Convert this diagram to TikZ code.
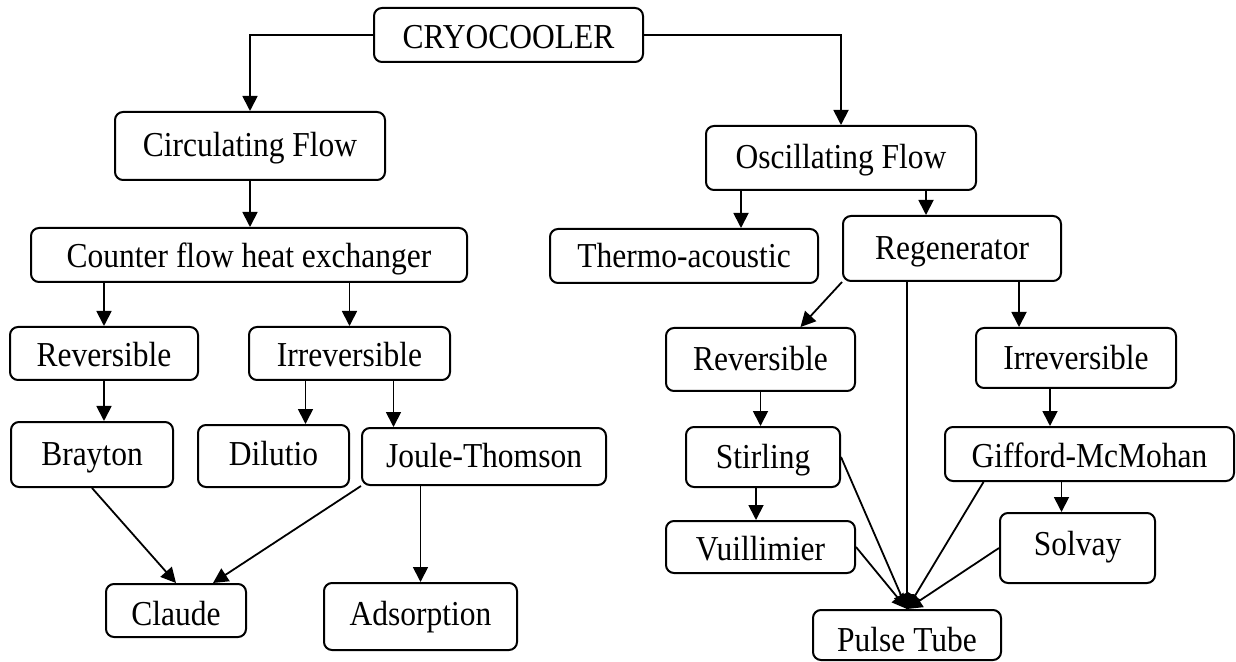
\documentclass[tikz,border=0pt]{standalone}
\usepackage{fontspec}
\setmainfont{Liberation Serif}[FakeStretch=0.9]
\usetikzlibrary{arrows.meta}

\begin{document}
\begin{tikzpicture}[
  x=0.5pt,y=-0.5pt,
  stage/.style={draw,rounded corners=4pt,line width=1pt,align=center,inner sep=2pt,text height=11pt,text depth=0pt,font=\fontsize{17.5}{21}\selectfont},
  flow/.style={-{Triangle[length=7.5pt,width=7.5pt]},line width=0.9pt}
]
\useasboundingbox (0,0) rectangle (1236,662);
% top and the two flow families
\node[stage,minimum width=134.5pt,minimum height=27pt,text height=14pt] (n0) at (508.5,35) {CRYOCOOLER};
\node[stage,minimum width=135pt,minimum height=34pt] (n1) at (250,146) {Circulating Flow};
\node[stage,minimum width=135pt,minimum height=32pt] (n2) at (841,158) {Oscillating Flow};
\draw[flow] (n0.west) -| (n1.north);
\draw[flow] (n0.east) -| (n2.north);
% circulating side
\node[stage,minimum width=218pt,minimum height=27pt,text height=13pt] (n3) at (249,255) {Counter flow heat exchanger};
\draw[flow] (n1.south) -- (n1.south |- n3.north);
\node[stage,minimum width=94pt,minimum height=26.5pt,text height=13.5pt] (n6) at (104,353.5) {Reversible};
\node[stage,minimum width=100.5pt,minimum height=26.5pt,text height=13.5pt] (n7) at (349.5,353.5) {Irreversible};
\draw[flow] (n3.south -| n6.north) -- (n6.north);
\draw[flow] (n3.south -| n7.north) -- (n7.north);
\node[stage,minimum width=81pt,minimum height=32.5pt] (n10) at (92,454.5) {Brayton};
\node[stage,minimum width=75.5pt,minimum height=31pt,text height=9pt] (n11) at (273.5,456) {Dilutio};
\node[stage,minimum width=122pt,minimum height=28.5pt] (n12) at (484,456.5) {Joule-Thomson};
\draw[flow] (n6.south) -- (n6.south |- n10.north);
\draw[flow] ([xshift=-22pt]n7.south) -- ([xshift=-22pt]n7.south |- n11.north);
\draw[flow] ([xshift=22pt]n7.south) -- ([xshift=22pt]n7.south |- n12.north);
\node[stage,minimum width=70pt,minimum height=26.5pt,text height=14.5pt] (n17) at (176,610.5) {Claude};
\node[stage,minimum width=96.5pt,minimum height=33.5pt,text height=8.5pt] (n18) at (420.5,616.5) {Adsorption};
\draw[flow] (n10.south) -- (n17.north);
\draw[flow] (n12.south west) -- ([xshift=18.5pt]n17.north);
\draw[flow] (n12.south -| n18.north) -- (n18.north);
% oscillating side
\node[stage,minimum width=134pt,minimum height=27pt,text height=12pt] (n4) at (684,256) {Thermo-acoustic};
\node[stage,minimum width=109pt,minimum height=32.5pt] (n5) at (952,248.5) {Regenerator};
\draw[flow] ([xshift=-50pt]n2.south) -- ([xshift=-50pt]n2.south |- n4.north);
\draw[flow] ([xshift=42.5pt]n2.south) -- ([xshift=42.5pt]n2.south |- n5.north);
\node[stage,minimum width=94.5pt,minimum height=31.5pt] (n8) at (760.5,359.5) {Reversible};
\node[stage,minimum width=100pt,minimum height=30pt,text height=12pt] (n9) at (1076,358) {Irreversible};
\draw[flow] (n5.south west) -- ([xshift=20pt]n8.north);
\draw[flow] ([xshift=33.5pt]n5.south) -- ([xshift=33.5pt]n5.south |- n9.north);
\node[stage,minimum width=77pt,minimum height=30pt] (n13) at (763,457) {Stirling};
\node[stage,minimum width=144.5pt,minimum height=27pt,text height=13pt] (n14) at (1089.5,454) {Gifford-McMohan};
\draw[flow] (n8.south) -- (n8.south |- n13.north);
\draw[flow] ([xshift=-13pt]n9.south) -- ([xshift=-13pt]n9.south |- n14.north);
\node[stage,minimum width=94.5pt,minimum height=26pt,text height=13pt] (n15) at (760.5,547) {Vuillimier};
\node[stage,minimum width=77.5pt,minimum height=35pt,text height=7pt] (n16) at (1077.5,548) {Solvay};
\draw[flow] ([xshift=-3.5pt]n13.south) -- ([xshift=-3.5pt]n13.south |- n15.north);
\draw[flow] ([xshift=-14pt]n14.south) -- ([xshift=-14pt]n14.south |- n16.north);
\node[stage,minimum width=94pt,minimum height=25pt,text height=16pt] (n19) at (907,635) {Pulse Tube};
\draw[flow] (n5.south -| n19.north) -- (n19.north);
\draw[flow] (n13.east) -- (n19.north);
\draw[flow] (n15.east) -- (n19.north);
\draw[flow] ([xshift=-53pt]n14.south) -- (n19.north);
\draw[flow] (n16.west) -- (n19.north);
\end{tikzpicture}
\end{document}
